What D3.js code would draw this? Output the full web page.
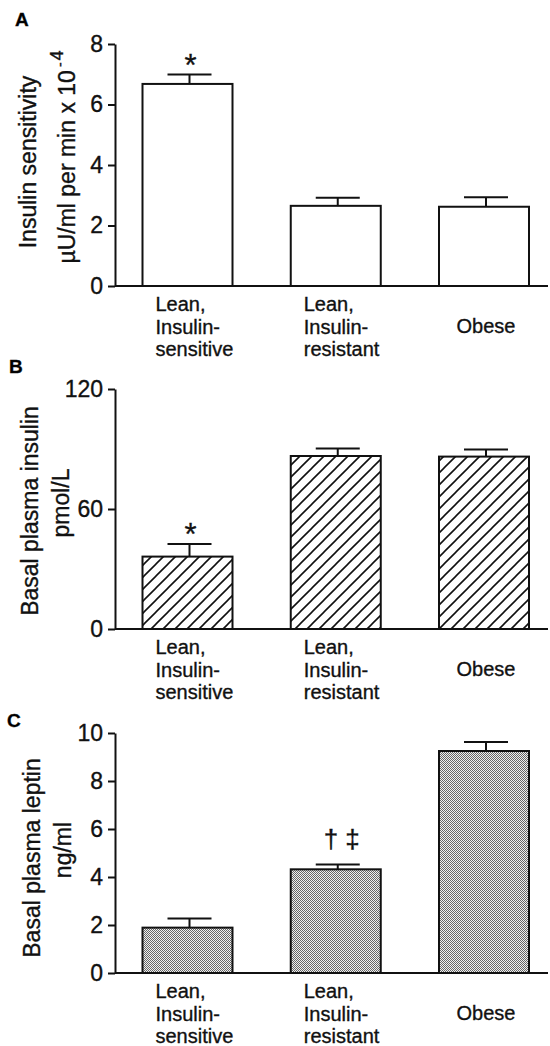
<!DOCTYPE html>
<html>
<head>
<meta charset="utf-8">
<script src="https://cdn.jsdelivr.net/npm/d3@7"></script>
<style>
  body { margin: 0; background: #fff; }
  svg { display: block; font-family: "Liberation Sans", Arial, Helvetica, sans-serif; }
  svg text { stroke: #111; stroke-width: 0.35; }
  .axis path, .axis line { stroke: #111; stroke-width: 2; }
  .axis text { font-size: 23px; fill: #111; }
</style>
</head>
<body>
<div id="chart"></div>
<script>
// group names, one label line per row
const categories = ["Lean, Insulin-sensitive", "Lean, Insulin-resistant", "Obese"];
const categoryLines = [["Lean,", "Insulin-", "sensitive"], ["Lean,", "Insulin-", "resistant"], ["Obese"]];

// A: insulin sensitivity
const sensitivityMean = [6.68, 2.65, 2.62];
const sensitivityErr = [0.31, 0.27, 0.31];
const sensitivityTicks = [0, 2, 4, 6, 8];
const sensitivityMarks = ["*", "", ""];

// B: basal plasma insulin
const insulinMean = [36.2, 86.5, 86.2];
const insulinErr = [6.3, 3.8, 3.6];
const insulinTicks = [0, 60, 120];
const insulinMarks = ["*", "", ""];

// C: basal plasma leptin
const leptinMean = [1.89, 4.32, 9.25];
const leptinErr = [0.38, 0.2, 0.38];
const leptinTicks = [0, 2, 4, 6, 8, 10];
const leptinMarks = ["", "† ‡", ""];

const W = 550, H = 1046;
const axisX = 115, axisEnd = 548, barW = 90;

const svg = d3.select("#chart").append("svg")
    .attr("width", W)
    .attr("height", H);

const defs = svg.append("defs");

const hatch = defs.append("pattern")
    .attr("id", "hatch")
    .attr("patternUnits", "userSpaceOnUse")
    .attr("width", 12)
    .attr("height", 12);
hatch.append("rect").attr("width", 12).attr("height", 12).attr("fill", "#fff");
hatch.append("path")
    .attr("d", "M-3,3 L3,-3 M0,12 L12,0 M9,15 L15,9")
    .attr("stroke", "#111")
    .attr("stroke-width", 1.6);

const dots = defs.append("pattern")
    .attr("id", "dots")
    .attr("patternUnits", "userSpaceOnUse")
    .attr("width", 2)
    .attr("height", 2);
dots.append("rect").attr("width", 2).attr("height", 2).attr("fill", "#f0f0f0");
dots.append("rect").attr("x", 0).attr("y", 0).attr("width", 1).attr("height", 1).attr("fill", "#666");
dots.append("rect").attr("x", 1).attr("y", 1).attr("width", 1).attr("height", 1).attr("fill", "#666");

const x = d3.scalePoint()
    .domain(categories)
    .range([187.5, 484]);

const panels = [
    {
        letter: "A", letterPos: [15, 26],
        mean: sensitivityMean, err: sensitivityErr, ticks: sensitivityTicks, marks: sensitivityMarks,
        range: [286, 44], fill: "#fff",
        titles: [{ text: "Insulin sensitivity", x: 36, y: 162 },
                 { text: "µU/ml per min x 10", x: 75, y: 157, sup: true }]
    },
    {
        letter: "B", letterPos: [9, 373],
        mean: insulinMean, err: insulinErr, ticks: insulinTicks, marks: insulinMarks,
        range: [629, 389], fill: "url(#hatch)",
        titles: [{ text: "Basal plasma insulin", x: 38, y: 511 },
                 { text: "pmol/L", x: 69, y: 503 }]
    },
    {
        letter: "C", letterPos: [7, 727],
        mean: leptinMean, err: leptinErr, ticks: leptinTicks, marks: leptinMarks,
        range: [973, 733], fill: "url(#dots)",
        titles: [{ text: "Basal plasma leptin", x: 40, y: 858 },
                 { text: "ng/ml", x: 71, y: 850 }]
    }
];

panels.forEach(p => {
    const y = d3.scaleLinear()
        .domain([d3.min(p.ticks), d3.max(p.ticks)])
        .range(p.range);
    const g = svg.append("g");
    const rows = categories.map((c, i) => ({ cat: c, mean: p.mean[i], err: p.err[i], mark: p.marks[i], lines: categoryLines[i] }));

    // panel letter
    g.append("text")
        .attr("x", p.letterPos[0])
        .attr("y", p.letterPos[1])
        .attr("font-size", 19)
        .attr("font-weight", "bold")
        .text(p.letter);

    // axis titles
    p.titles.forEach(t => {
        const tt = g.append("text")
            .attr("transform", `translate(${t.x},${t.y}) rotate(-90)`)
            .attr("text-anchor", "middle")
            .attr("font-size", 23)
            .attr("fill", "#111")
            .text(t.text);
        if (t.sup) {
            tt.append("tspan").attr("dx", 3).attr("dy", -10).attr("font-size", 14).text("-");
            tt.append("tspan").attr("dx", 2).attr("dy", -2).attr("font-size", 18).text("4");
        }
    });

    // error bars
    const eb = g.append("g").attr("stroke", "#111").attr("stroke-width", 2);
    eb.selectAll("line.stem")
        .data(rows)
        .join("line")
        .attr("class", "stem")
        .attr("x1", d => x(d.cat) + 2)
        .attr("x2", d => x(d.cat) + 2)
        .attr("y1", d => y(d.mean))
        .attr("y2", d => y(d.mean + d.err));
    eb.selectAll("line.cap")
        .data(rows)
        .join("line")
        .attr("class", "cap")
        .attr("x1", d => x(d.cat) + 2 - 22)
        .attr("x2", d => x(d.cat) + 2 + 22)
        .attr("y1", d => y(d.mean + d.err))
        .attr("y2", d => y(d.mean + d.err));

    // bars
    g.selectAll("rect.bar")
        .data(rows)
        .join("rect")
        .attr("class", "bar")
        .attr("x", d => x(d.cat) - barW / 2)
        .attr("width", barW)
        .attr("y", d => y(d.mean))
        .attr("height", d => y(0) - y(d.mean))
        .attr("fill", p.fill)
        .attr("stroke", "#111")
        .attr("stroke-width", 2);

    // significance marks
    g.selectAll("text.mark")
        .data(rows.filter(d => d.mark))
        .join("text")
        .attr("class", "mark")
        .attr("x", d => x(d.cat) + (d.mark === "*" ? 3 : 6))
        .attr("y", d => y(d.mean + d.err) + (d.mark === "*" ? 1 : -17))
        .attr("text-anchor", "middle")
        .attr("font-size", d => d.mark === "*" ? 31 : 26)
        .attr("fill", "#111")
        .text(d => d.mark);

    // y axis
    g.append("g")
        .attr("class", "axis")
        .attr("transform", `translate(${axisX},0)`)
        .call(d3.axisLeft(y).tickValues(p.ticks).tickSize(7).tickSizeOuter(0).tickPadding(5).tickFormat(d3.format("d")));

    // baseline
    g.append("line")
        .attr("x1", axisX)
        .attr("x2", axisEnd)
        .attr("y1", y(0))
        .attr("y2", y(0))
        .attr("stroke", "#111")
        .attr("stroke-width", 2);

    // category labels
    const lab = g.selectAll("text.cat")
        .data(rows)
        .join("text")
        .attr("class", "cat")
        .attr("font-size", 20)
        .attr("fill", "#111")
        .attr("text-anchor", d => d.lines.length > 1 ? "start" : "middle")
        .attr("transform", d => {
            const lx = d.lines.length > 1 ? x(d.cat) - 32 : x(d.cat) + 2;
            const ly = y(0) + 25 + (d.lines.length > 1 ? 0 : 22);
            return `translate(${lx},${ly})`;
        });
    lab.selectAll("tspan")
        .data(d => d.lines)
        .join("tspan")
        .attr("x", 0)
        .attr("dy", (d, i) => i === 0 ? 0 : 22.5)
        .text(d => d);
});
</script>
</body>
</html>
